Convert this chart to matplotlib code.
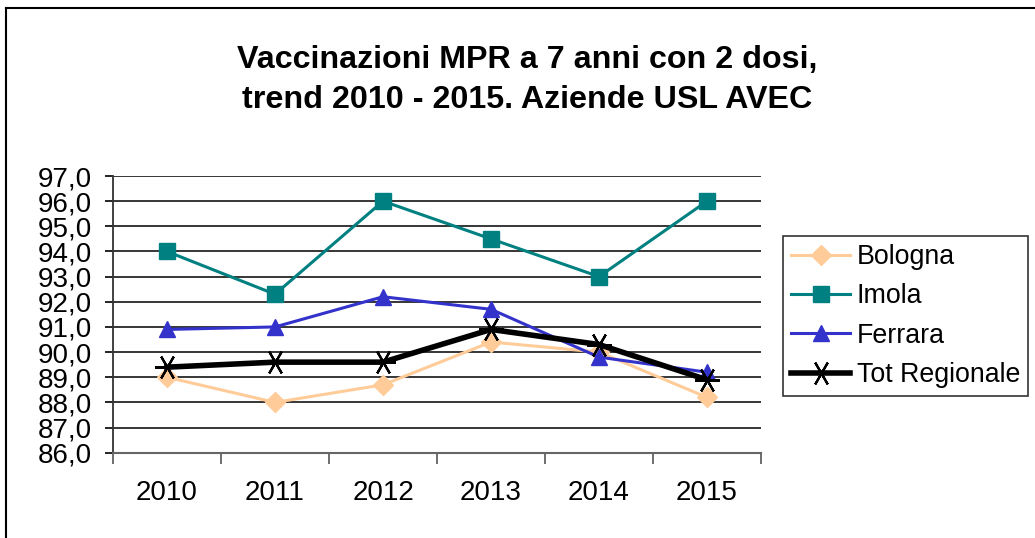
import matplotlib
matplotlib.use("Agg")
import matplotlib.pyplot as plt
from matplotlib.lines import Line2D

plt.rcParams['font.family'] = ['Liberation Sans', 'DejaVu Sans']

years = ['2010', '2011', '2012', '2013', '2014', '2015']
bologna = [89.0, 88.0, 88.7, 90.4, 90.0, 88.2]
imola = [94.0, 92.3, 96.0, 94.5, 93.0, 96.0]
ferrara = [90.9, 91.0, 92.2, 91.7, 89.8, 89.2]
tot_regionale = [89.4, 89.6, 89.6, 90.9, 90.3, 88.9]
yticks = [86, 87, 88, 89, 90, 91, 92, 93, 94, 95, 96, 97]

W, H = 1035, 538
fig = plt.figure(figsize=(W / 100, H / 100), dpi=100)
ax = fig.add_axes([113 / W, 1 - 452.7 / H, (761 - 113) / W, (452.7 - 176) / H])

x = list(range(len(years)))
ax.plot(x, bologna, color='#FFCC99', lw=2.2, marker='D', ms=10, label='Bologna', zorder=3)
ax.plot(x, imola, color='#008080', lw=2.2, marker='s', ms=11, label='Imola', zorder=3)
ax.plot(x, ferrara, color='#3333CC', lw=2.2, marker='^', ms=11, label='Ferrara', zorder=3)
ax.plot(x, tot_regionale, color='black', lw=4, marker=(6, 2, 30), ms=18, mew=1.6,
        label='Tot Regionale', zorder=4)

ax.set_xlim(-0.5, len(years) - 0.5)
ax.set_ylim(86, 97)
ax.set_yticks(yticks)
ax.set_yticklabels([f"{v:.1f}".replace('.', ',') for v in yticks], fontsize=20)
ax.yaxis.grid(True, color='black', lw=1.1)
ax.set_axisbelow(True)

ax.set_xticks([i - 0.5 for i in range(len(years) + 1)])
ax.set_xticklabels([])
ax.set_xticks(x, minor=True)
ax.set_xticklabels(years, minor=True, fontsize=20)
ax.tick_params(axis='x', which='major', length=8, width=1.2, color='#555555', direction='out')
ax.tick_params(axis='x', which='minor', length=0, pad=20)
ax.tick_params(axis='y', length=6, width=1.2, pad=9)

for s in ['top', 'right']:
    ax.spines[s].set_visible(False)
ax.spines['bottom'].set_color('#666666')
ax.spines['bottom'].set_linewidth(1.5)
ax.spines['left'].set_color('#333333')
ax.spines['left'].set_linewidth(1.3)

fig.text(527 / W, 1 - 60 / H, 'Vaccinazioni MPR a 7 anni con 2 dosi,', ha='center', va='center',
         fontsize=23.2, fontweight='bold')
fig.text(527 / W, 1 - 100 / H, 'trend 2010 - 2015. Aziende USL AVEC', ha='center', va='center',
         fontsize=23.2, fontweight='bold')

leg = fig.legend(loc='upper left', bbox_to_anchor=(783 / W, 1 - 236 / H), fontsize=19.3,
                 frameon=True, fancybox=False, edgecolor='black', handlelength=2.2,
                 handletextpad=0.25, labelspacing=0.5, borderpad=0.3, borderaxespad=0)
leg.get_frame().set_linewidth(1.2)

# outer chart frame (left and top edges)
fig.add_artist(Line2D([6 / W, 6 / W], [0, 1 - 8 / H], color='black', lw=1.5, transform=fig.transFigure))
fig.add_artist(Line2D([6 / W, 1], [1 - 8 / H, 1 - 8 / H], color='black', lw=1.5, transform=fig.transFigure))

fig.savefig('out.png', dpi=100)
